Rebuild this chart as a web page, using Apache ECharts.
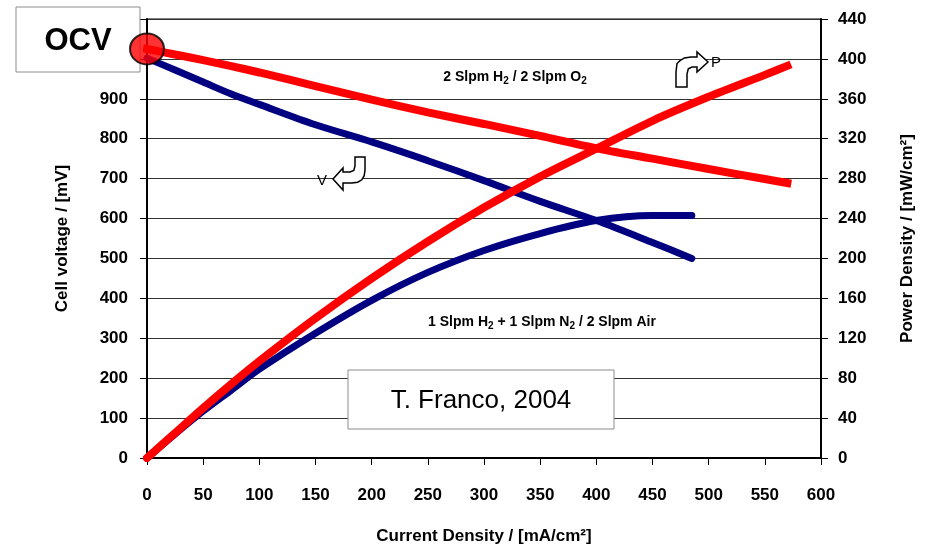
<!DOCTYPE html>
<html>
<head>
<meta charset="utf-8">
<script src="https://cdn.jsdelivr.net/npm/echarts@6/dist/echarts.min.js"></script>
<style>html,body{margin:0;padding:0;background:#fff;}#c{width:927px;height:550px;}</style>
</head>
<body>
<div id="c"></div>
<script>
// Current density [mA/cm2]
const o2Current = [0, 25, 50, 75, 100, 150, 200, 250, 300, 350, 400, 450, 500, 550, 570];
const o2Voltage = [1025, 1011, 997, 982, 966, 932, 898, 866, 837, 807, 776, 750, 724, 699, 689];
const o2Power   = [0, 25, 50, 74, 97, 140, 180, 217, 251, 282, 310, 338, 362, 384, 393];

const airCurrent = [0, 25, 50, 75, 100, 150, 200, 250, 300, 350, 400, 450, 485];
const airVoltage = [1002, 972, 942, 912, 886, 835, 792, 745, 695, 643, 595, 540, 500];
const airPower   = [0, 24, 47, 68, 89, 125, 158, 186, 208, 225, 238, 243, 243];

const ocvPoint = [0, 1025];

const xTicks = {min: 0, max: 600, interval: 50};
const vTicks = {min: 0, max: 1100, interval: 100};
const pTicks = {min: 0, max: 440, interval: 40};

const pair = (xs, ys) => xs.map((x, i) => [x, ys[i]]);

const chart = echarts.init(document.getElementById('c'), null, {renderer: 'canvas'});
const FONT = 'Liberation Sans, Arial, sans-serif';
const RED = '#ff0000', BLUE = '#000080';

const pArrow = [[676,87],[676,72],[677,63.5],[680,60.7],[684.4,57.9],[691,57],[697,57],[697,52],[708,62],[697,72],[697,67],[692,67],[688.3,68.8],[687,74],[687,87]];
const vArrow = [[355,157],[365,157],[365,170],[364.2,175.7],[361.8,179.8],[357.7,182.2],[352,183],[343,183],[343,190],[333,179],[343,168],[343,172],[350,172],[353.8,170.5],[355,166]];

chart.setOption({
  animation: false,
  backgroundColor: '#fff',
  grid: {left: 147, right: 106, top: 19, bottom: 89, show: true, borderColor: '#000', borderWidth: 1, containLabel: false},
  xAxis: {
    type: 'value', min: xTicks.min, max: xTicks.max, interval: xTicks.interval,
    name: 'Current Density / [mA/cm²]', nameLocation: 'middle', nameGap: 70,
    nameTextStyle: {fontFamily: FONT, fontWeight: 'bold', fontSize: 17, color: '#000'},
    axisLine: {show: true, onZero: false, lineStyle: {color: '#000', width: 2}},
    axisTick: {show: true, inside: false, length: 7, lineStyle: {color: '#000', width: 1}},
    axisLabel: {margin: 29, fontFamily: FONT, fontWeight: 'bold', fontSize: 17, color: '#000'},
    splitLine: {show: false}
  },
  yAxis: [{
    type: 'value', position: 'left', min: vTicks.min, max: vTicks.max, interval: vTicks.interval,
    name: 'Cell voltage / [mV]', nameLocation: 'middle', nameGap: 76,
    nameTextStyle: {fontFamily: FONT, fontWeight: 'bold', fontSize: 17, color: '#000'},
    axisLine: {show: true, onZero: false, lineStyle: {color: '#000', width: 2}},
    axisTick: {show: true, inside: false, length: 7, lineStyle: {color: '#000', width: 1}},
    axisLabel: {margin: 19, fontFamily: FONT, fontWeight: 'bold', fontSize: 17, color: '#000',
      formatter: v => (v > 900 ? '' : String(v))},
    splitLine: {show: true, lineStyle: {color: '#333', width: 1}}
  }, {
    type: 'value', position: 'right', min: pTicks.min, max: pTicks.max, interval: pTicks.interval,
    name: 'Power Density / [mW/cm²]', nameLocation: 'middle', nameGap: 78,
    nameTextStyle: {fontFamily: FONT, fontWeight: 'bold', fontSize: 17, color: '#000'},
    axisLine: {show: true, onZero: false, lineStyle: {color: '#000', width: 2}},
    axisTick: {show: true, inside: false, length: 7, lineStyle: {color: '#000', width: 1}},
    axisLabel: {margin: 17, fontFamily: FONT, fontWeight: 'bold', fontSize: 17, color: '#000'},
    splitLine: {show: false}
  }],
  series: [
    {name: 'V air', type: 'line', yAxisIndex: 0, data: pair(airCurrent, airVoltage), showSymbol: false, smooth: 0.3,
     lineStyle: {color: BLUE, width: 7, cap: 'round'}, z: 2},
    {name: 'P air', type: 'line', yAxisIndex: 1, data: pair(airCurrent, airPower), showSymbol: false, smooth: 0.3,
     lineStyle: {color: BLUE, width: 7, cap: 'round'}, z: 2},
    {name: 'V O2', type: 'line', yAxisIndex: 0, data: pair(o2Current, o2Voltage), showSymbol: false, smooth: 0.3,
     lineStyle: {color: RED, width: 8, cap: 'square'}, z: 3},
    {name: 'P O2', type: 'line', yAxisIndex: 1, data: pair(o2Current, o2Power), showSymbol: false, smooth: 0.3,
     lineStyle: {color: RED, width: 8, cap: 'square'}, z: 3},
    {name: 'OCV', type: 'scatter', yAxisIndex: 0, data: [ocvPoint], symbol: 'circle', symbolSize: [34, 31],
     itemStyle: {color: RED, borderColor: '#000', borderWidth: 2}, z: 20}
  ],
  graphic: [
    {type: 'rect', z: 10, shape: {x: 16, y: 7, width: 124, height: 65},
     style: {fill: '#fff', stroke: '#8c8c8c', lineWidth: 1}},
    {type: 'text', z: 11, x: 78, y: 41,
     style: {text: 'OCV', font: 'bold 31px ' + FONT, fill: '#000', align: 'center', verticalAlign: 'middle'}},
    {type: 'rect', z: 10, shape: {x: 348, y: 370, width: 266, height: 59},
     style: {fill: '#fff', stroke: '#8c8c8c', lineWidth: 1}},
    {type: 'text', z: 11, x: 481, y: 401,
     style: {text: 'T. Franco, 2004', font: '26px ' + FONT, fill: '#000', align: 'center', verticalAlign: 'middle'}},
    {type: 'text', z: 11, x: 515, y: 77,
     style: {text: '{m|2 Slpm H}{s|2}{m| / 2 Slpm O}{s|2}', align: 'center', verticalAlign: 'middle',
       rich: {m: {fontFamily: FONT, fontWeight: 'bold', fontSize: 14, lineHeight: 18, fill: '#000'},
              s: {fontFamily: FONT, fontWeight: 'bold', fontSize: 10, lineHeight: 8, verticalAlign: 'bottom', fill: '#000'}}}},
    {type: 'text', z: 11, x: 542, y: 322,
     style: {text: '{m|1 Slpm H}{s|2}{m| + 1 Slpm N}{s|2}{m| / 2 Slpm Air}', align: 'center', verticalAlign: 'middle',
       rich: {m: {fontFamily: FONT, fontWeight: 'bold', fontSize: 14, lineHeight: 18, fill: '#000'},
              s: {fontFamily: FONT, fontWeight: 'bold', fontSize: 10, lineHeight: 8, verticalAlign: 'bottom', fill: '#000'}}}},
    {type: 'polygon', z: 11, shape: {points: pArrow},
     style: {fill: '#fff', stroke: '#000', lineWidth: 1.5}},
    {type: 'text', z: 11, x: 711, y: 63,
     style: {text: 'P', font: '15px ' + FONT, fill: '#000', align: 'left', verticalAlign: 'middle'}},
    {type: 'polygon', z: 11, shape: {points: vArrow},
     style: {fill: '#fff', stroke: '#000', lineWidth: 1.5}},
    {type: 'text', z: 11, x: 322, y: 181,
     style: {text: 'V', font: '15px ' + FONT, fill: '#000', align: 'center', verticalAlign: 'middle'}}
  ]
});
</script>
</body>
</html>
